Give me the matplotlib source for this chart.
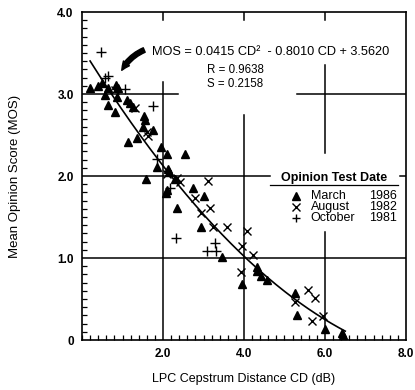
###############################################################################
#                MOS vs LPC cepstrum distance (scanned figure)                #
###############################################################################
import numpy as np
import matplotlib
matplotlib.use('Agg')
import matplotlib.pyplot as plt
from matplotlib.ticker import MultipleLocator, FixedLocator

# Data
###############################################################################
march_cd = [0.20, 0.40, 0.49, 0.64, 0.84, 0.89, 0.57, 0.64, 0.86, 0.81, 1.11,
            1.19, 1.26, 1.53, 1.56, 1.50, 1.75, 1.14, 1.35, 1.95, 2.10, 2.54,
            1.85, 2.12, 2.15, 1.58, 2.10, 2.07, 2.30, 2.74, 3.02, 2.35, 2.94,
            3.46, 3.95, 4.32, 4.33, 4.41, 4.56, 5.26, 5.30, 6.00, 6.42, 6.44]
march_mos = [3.07, 3.10, 3.13, 3.08, 3.11, 3.07, 2.99, 2.87, 2.96, 2.78, 2.93,
             2.89, 2.84, 2.73, 2.69, 2.60, 2.56, 2.42, 2.46, 2.36, 2.27, 2.27,
             2.11, 2.09, 2.05, 1.96, 1.83, 1.79, 1.96, 1.85, 1.76, 1.61, 1.38,
             1.01, 0.69, 0.89, 0.84, 0.78, 0.73, 0.57, 0.31, 0.13, 0.09, 0.06]

august_cd = [0.81, 1.31, 1.60, 1.63, 2.10, 2.42, 2.35, 3.11, 2.79, 3.16, 2.94,
             3.23, 3.58, 4.07, 3.95, 4.22, 3.93, 5.26, 5.58, 5.75, 5.67, 5.95]
august_mos = [3.05, 2.83, 2.54, 2.49, 2.03, 1.93, 1.98, 1.94, 1.73, 1.61, 1.55,
              1.38, 1.38, 1.33, 1.15, 1.04, 0.83, 0.46, 0.61, 0.51, 0.23, 0.29]

october_cd = [0.47, 0.57, 0.64, 1.06, 1.75, 1.85, 2.17, 2.32, 3.28, 3.09, 3.31]
october_mos = [3.51, 3.20, 3.22, 3.06, 2.86, 2.21, 1.85, 1.24, 1.18, 1.09, 1.09]

# fitted curve  MOS = a CD^2 + b CD + c
fit_coef = [0.0415, -0.8010, 3.5620]
fit_range = [0.2, 6.5]

legend_rows = [('^', 'March', '1986'), ('x', 'August', '1982'),
               ('+', 'October', '1981')]

# Figure
###############################################################################
plt.rcParams['font.family'] = ['Liberation Sans', 'DejaVu Sans']

fig = plt.figure(figsize=(4.15, 3.9), dpi=100)
ax = fig.add_axes([0.1976, 0.128, 0.7807, 0.841])

ax.set_xlim(0, 8)
ax.set_ylim(0, 4)

# broken grid lines as in the original print
ax.axvline(2, ymin=0, ymax=3.15 / 4, color='k', lw=1.1)
ax.axvline(4, ymin=0, ymax=2.74 / 4, color='k', lw=1.1)
ax.axvline(6, ymin=0, ymax=1.32 / 4, color='k', lw=1.1)
ax.axvline(6, ymin=2.28 / 4, ymax=3.35 / 4, color='k', lw=1.1)
for xv in [2, 4, 6]:
    ax.axvline(xv, ymin=0.975, ymax=1, color='k', lw=1.1)
ax.axhline(3, xmin=0, xmax=2.37 / 8, color='k', lw=1.1)
ax.axhline(3, xmin=5.3 / 8, xmax=1, color='k', lw=1.1)
ax.axhline(2, xmin=0, xmax=4.64 / 8, color='k', lw=1.1)
ax.axhline(2, xmin=0.98, xmax=1, color='k', lw=1.1)
ax.axhline(1, color='k', lw=1.1)

# points
ax.plot(march_cd, march_mos, '^', color='k', ms=5.5, ls='none')
ax.plot(august_cd, august_mos, 'x', color='k', ms=5.5, mew=1.0, ls='none')
ax.plot(october_cd, october_mos, '+', color='k', ms=6.5, mew=1.0, ls='none')

cd = np.linspace(fit_range[0], fit_range[1], 200)
ax.plot(cd, np.polyval(fit_coef, cd), color='k', lw=1.2)

# annotations
ax.text(1.73, 3.51, 'MOS = 0.0415 CD\u00b2  - 0.8010 CD + 3.5620',
        fontsize=9.2, va='center', ha='left')
ax.text(3.09, 3.29, 'R = 0.9638', fontsize=8.3, va='center')
ax.text(3.09, 3.12, 'S = 0.2158', fontsize=8.3, va='center')
ax.annotate('', xy=(0.95, 3.26), xytext=(1.6, 3.55),
            arrowprops=dict(arrowstyle='simple,head_width=0.55,head_length=0.6,'
                            'tail_width=0.35',
                            connectionstyle='arc3,rad=0.2', color='k'))

# legend drawn by hand
ax.text(6.22, 1.98, 'Opinion Test Date', fontsize=9, fontweight='bold',
        ha='center', va='center')
ax.plot([4.64, 7.8], [1.89, 1.89], color='k', lw=0.9)
row_y = [1.76, 1.62, 1.49]
for (mk, name, year), yy in zip(legend_rows, row_y):
    ax.plot([5.28], [yy], mk, color='k', ms=5.5, mew=1.0)
    ax.text(5.65, yy, name, fontsize=9, va='center', ha='left')
    ax.text(7.78, yy, year, fontsize=9, va='center', ha='right')

# axes and ticks
ax.xaxis.set_major_locator(FixedLocator([2, 4, 6, 8]))
ax.set_xticklabels(['2.0', '4.0', '6.0', '8.0'])
ax.yaxis.set_major_locator(FixedLocator([0, 1, 2, 3, 4]))
ax.set_yticklabels(['0', '1.0', '2.0', '3.0', '4.0'])
ax.xaxis.set_minor_locator(MultipleLocator(0.2))
ax.yaxis.set_minor_locator(MultipleLocator(0.1))
ax.tick_params(which='both', direction='in', top=False, right=False)
ax.tick_params(which='major', length=0, labelsize=8.5, pad=6)
ax.tick_params(which='minor', length=3.5, width=0.9)
for lab in ax.get_xticklabels() + ax.get_yticklabels():
    lab.set_fontweight('bold')
for sp in ax.spines.values():
    sp.set_linewidth(1.2)

ax.set_xlabel('LPC Cepstrum Distance CD (dB)', fontsize=9, labelpad=9)
ax.set_ylabel('Mean Opinion Score (MOS)', fontsize=9.5, labelpad=26)

fig.savefig('out.png', dpi=100)
